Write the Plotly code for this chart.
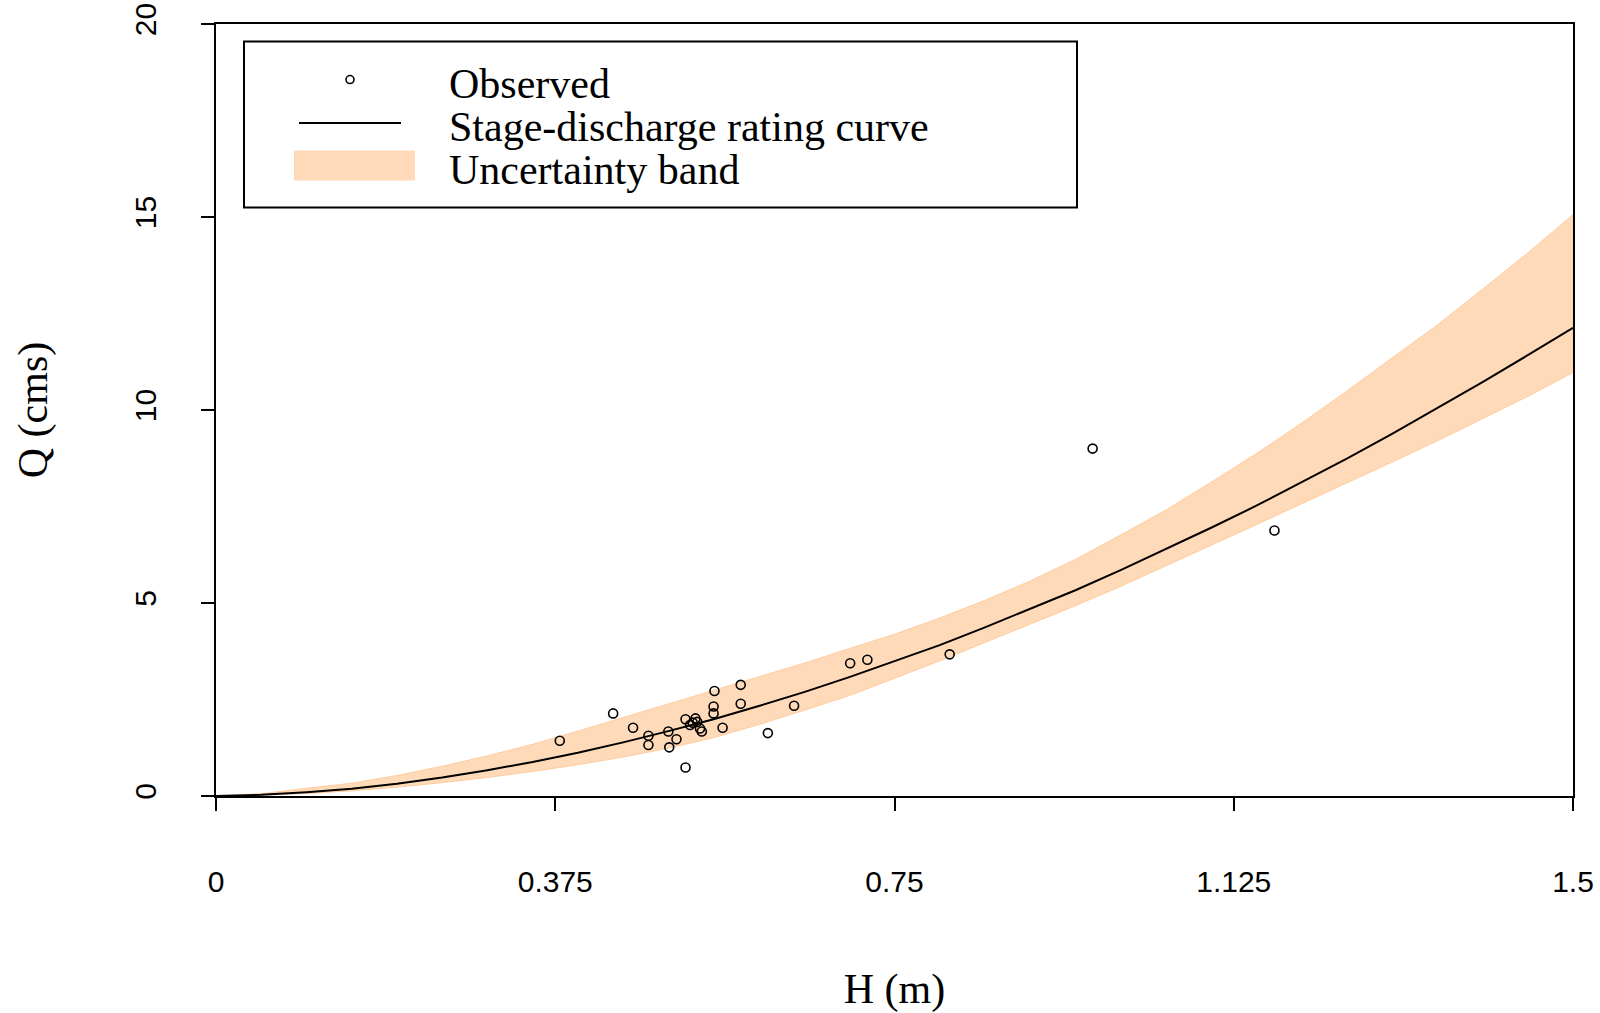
import plotly.graph_objects as go

# ---- data ----
obs_H = [0.380, 0.439, 0.461, 0.478, 0.478, 0.500, 0.501, 0.509, 0.519, 0.519,
         0.524, 0.527, 0.530, 0.532, 0.535, 0.537, 0.550, 0.550, 0.551, 0.560,
         0.580, 0.580, 0.610, 0.639, 0.701, 0.720, 0.811, 0.969, 1.170]
obs_Q = [1.43, 2.14, 1.77, 1.56, 1.32, 1.67, 1.26, 1.47, 0.74, 1.99,
         1.84, 1.90, 2.01, 1.92, 1.75, 1.67, 2.32, 2.14, 2.72, 1.77,
         2.88, 2.39, 1.63, 2.34, 3.44, 3.53, 3.67, 9.00, 6.88]

curve_H = [0.00, 0.05, 0.10, 0.15, 0.20, 0.25, 0.30, 0.35, 0.40, 0.45,
           0.50, 0.55, 0.60, 0.65, 0.70, 0.75, 0.80, 0.85, 0.90, 0.95,
           1.00, 1.05, 1.10, 1.15, 1.20, 1.25, 1.30, 1.35, 1.40, 1.45, 1.50]
curve_Q = [0.00, 0.03, 0.10, 0.19, 0.32, 0.48, 0.67, 0.88, 1.12, 1.39,
           1.68, 1.99, 2.33, 2.69, 3.08, 3.49, 3.91, 4.37, 4.84, 5.33,
           5.85, 6.39, 6.95, 7.52, 8.12, 8.74, 9.38, 10.04, 10.72, 11.42, 12.13]
band_upper = [0.00, 0.06, 0.20, 0.33, 0.53, 0.77, 1.04, 1.34, 1.68, 2.03,
              2.39, 2.75, 3.10, 3.44, 3.82, 4.19, 4.61, 5.07, 5.57, 6.13,
              6.76, 7.41, 8.13, 8.87, 9.66, 10.49, 11.35, 12.20, 13.13, 14.07, 15.06]
band_lower = [0.00, 0.02, 0.065, 0.135, 0.23, 0.345, 0.48, 0.635, 0.81, 1.01,
              1.24, 1.51, 1.85, 2.22, 2.60, 3.05, 3.50, 3.98, 4.45, 4.93,
              5.43, 5.96, 6.50, 7.03, 7.57, 8.12, 8.65, 9.20, 9.77, 10.35, 10.97]

x_tickvals = [0, 0.375, 0.75, 1.125, 1.5]
x_ticktext = ["0", "0.375", "0.75", "1.125", "1.5"]
y_tickvals = [0, 5, 10, 15, 20]
y_ticktext = ["0", "5", "10", "15", "20"]

legend_labels = ["Observed", "Stage-discharge rating curve", "Uncertainty band"]

BAND = "#FFDAB9"
SANS = "Liberation Sans, Arial, sans-serif"
SERIF = "Liberation Serif, Times New Roman, serif"

fig = go.Figure()

fig.add_trace(go.Scatter(
    x=curve_H + curve_H[::-1], y=band_upper + band_lower[::-1],
    fill="toself", fillcolor=BAND, mode="lines",
    line=dict(color="#FFCC9E", width=1), name=legend_labels[2],
    showlegend=False, hoverinfo="skip"))

fig.add_trace(go.Scatter(
    x=curve_H, y=curve_Q, mode="lines",
    line=dict(color="black", width=2), name=legend_labels[1], showlegend=False))

fig.add_trace(go.Scatter(
    x=obs_H, y=obs_Q, mode="markers",
    marker=dict(symbol="circle-open", size=9, color="black", line=dict(width=1.6)),
    name=legend_labels[0], showlegend=False))

# ---- legend drawn as a framed box like the R original ----
def px_x(p):
    return (p - 216) / 1357.0

def px_y(p):
    return (796 - p) / 771.5

shapes = [
    dict(type="rect", xref="paper", yref="paper",
         x0=px_x(244), x1=px_x(1077), y0=px_y(208), y1=px_y(42),
         line=dict(color="black", width=2), fillcolor="white", layer="above"),
    dict(type="circle", xref="paper", yref="paper",
         xsizemode="pixel", ysizemode="pixel",
         xanchor=px_x(350), yanchor=px_y(80),
         x0=-4, x1=4, y0=-4, y1=4,
         line=dict(color="black", width=1.6), layer="above"),
    dict(type="line", xref="paper", yref="paper",
         x0=px_x(299), x1=px_x(401), y0=px_y(123.5), y1=px_y(123.5),
         line=dict(color="black", width=2), layer="above"),
    dict(type="rect", xref="paper", yref="paper",
         x0=px_x(294), x1=px_x(415), y0=px_y(181), y1=px_y(151),
         line=dict(width=0), fillcolor=BAND, layer="above"),
]
annotations = []
for lab, yc in zip(legend_labels, [84, 127.5, 170]):
    annotations.append(dict(
        text=lab, xref="paper", yref="paper", x=px_x(447), y=px_y(yc),
        xanchor="left", yanchor="middle", showarrow=False,
        font=dict(family=SERIF, size=42, color="black")))

fig.update_layout(
    width=1600, height=1013,
    margin=dict(l=216, r=27, t=24, b=217, autoexpand=False),
    paper_bgcolor="white", plot_bgcolor="white",
    showlegend=False, shapes=shapes, annotations=annotations,
    xaxis=dict(
        range=[0, 1.5], tickmode="array", tickvals=x_tickvals, ticktext=x_ticktext,
        showgrid=False, zeroline=False, showline=True, linecolor="black", linewidth=2,
        mirror=True, ticks="outside", ticklen=13, tickwidth=1.5, tickcolor="black",
        ticklabelstandoff=45, ticklabeloverflow="allow",
        tickfont=dict(family=SANS, size=30, color="black"),
        title=dict(text="H (m)", font=dict(family=SERIF, size=42, color="black"), standoff=80),
        automargin=False),
    yaxis=dict(
        range=[0, 20], tickmode="array", tickvals=y_tickvals, ticktext=y_ticktext,
        showgrid=False, zeroline=False, showline=True, linecolor="black", linewidth=2,
        mirror=True, ticks="outside", ticklen=13, tickwidth=1.5, tickcolor="black",
        tickangle=-90, ticklabelstandoff=33, ticklabeloverflow="allow",
        tickfont=dict(family=SANS, size=30, color="black"),
        title=dict(text="Q (cms)", font=dict(family=SERIF, size=42, color="black"), standoff=68),
        automargin=False),
)

fig.write_html("out.html")
